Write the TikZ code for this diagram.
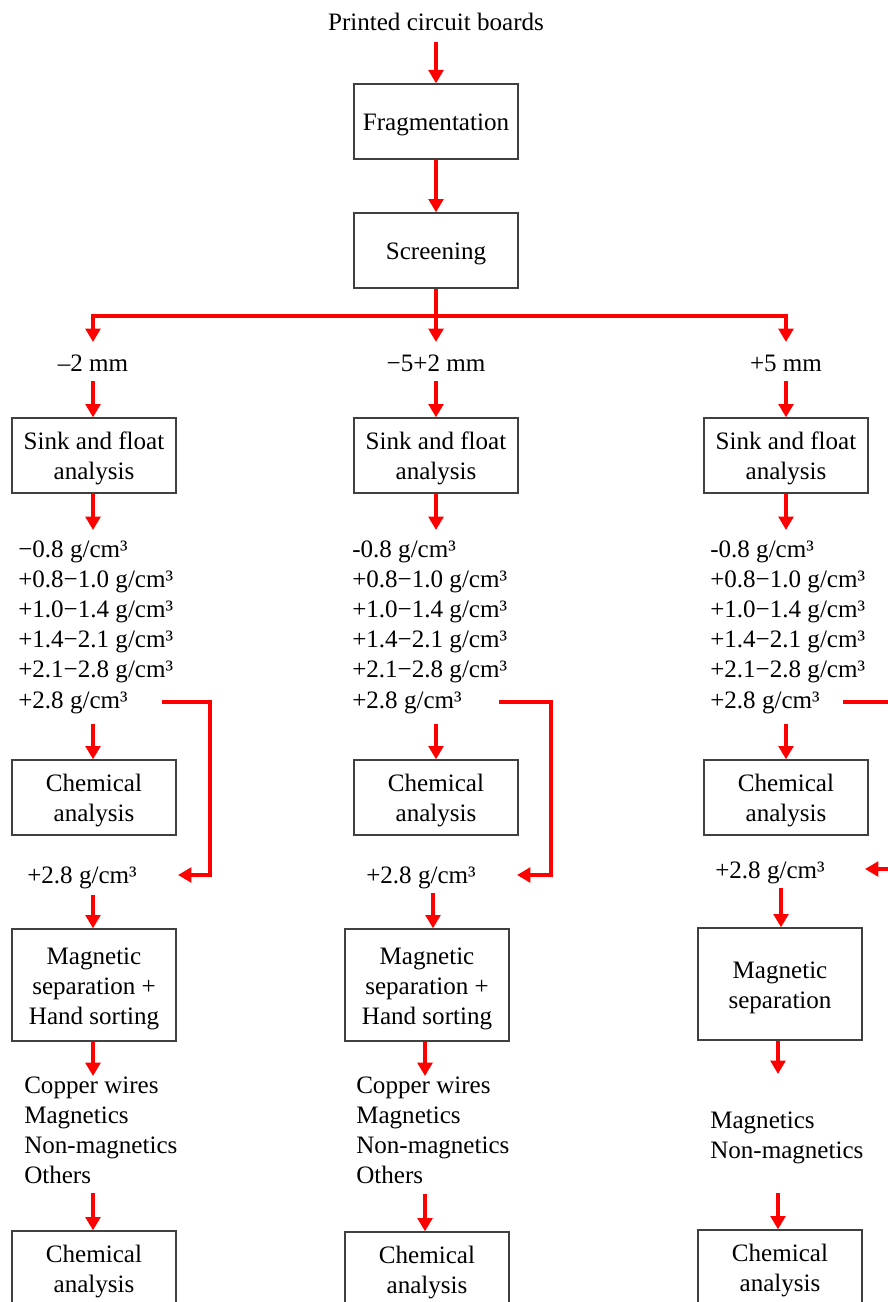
\documentclass[tikz,border=0pt]{standalone}
\usepackage{fontspec}
\setmainfont{Liberation Serif}
\usetikzlibrary{arrows.meta}
\newcommand{\Tup}{\rule{0pt}{18pt}}
\begin{document}
\begin{tikzpicture}[x=0.75pt,y=-0.75pt,
  every node/.style={font=\fontsize{18.8}{22.5}\selectfont, inner sep=0pt},
  box/.style={draw=black!75, line width=1pt, minimum width=123pt, minimum height=56.25pt, align=center},
  tall/.style={box, minimum height=84pt},
  flow/.style={red, line width=3.4pt},
  arr/.style={flow, -{Triangle[length=10pt,width=11pt]}},
  txt/.style={anchor=base},
  item/.style={anchor=base west}]
\useasboundingbox (0,0) rectangle (888,1302);
\clip (0,0) rectangle (888,1302);

% top
\node[txt] (pcb) at (436,31) {Printed circuit boards};
\coordinate (pcbo) at (436,42);
\node[box] (frag) at (436,121.5) {\Tup Fragmentation};
\node[box] (scr) at (436,250.5) {\Tup Screening};
\draw[arr] (pcbo) -- (frag.north);
\draw[arr] (frag.south) -- (scr.north);
\coordinate (j) at (436,316);
\coordinate (aL) at (93,342);
\coordinate (aM) at (436,342);
\coordinate (aR) at (786,342);
\draw[flow] (scr.south) -- (j);
\draw[arr] (j) -| (aL);
\draw[arr] (j) -| (aR);
\draw[arr] (j) -- (aM);

% size labels
\node[txt] (mmL) at (93,371) {–2 mm};
\node[txt] (mmM) at (436,371) {−5+2 mm};
\node[txt] (mmR) at (786,371) {+5 mm};
\coordinate (bL) at (93,381);
\coordinate (bM) at (436,381);
\coordinate (bR) at (786,381);

% sink and float
\node[box] (sinkL) at (94,455.5) {\Tup Sink and float\\analysis};
\node[box] (sinkM) at (436,455.5) {\Tup Sink and float\\analysis};
\node[box] (sinkR) at (786,455.5) {\Tup Sink and float\\analysis};
\draw[arr] (bL) -- (bL |- sinkL.north);
\draw[arr] (bM) -- (bM |- sinkM.north);
\draw[arr] (bR) -- (bR |- sinkR.north);
\coordinate (lL) at (93,530);
\coordinate (lM) at (436,530);
\coordinate (lR) at (786,530);
\draw[arr] (lL |- sinkL.south) -- (lL);
\draw[arr] (lM |- sinkM.south) -- (lM);
\draw[arr] (lR |- sinkR.south) -- (lR);

% density lists
\foreach \t [count=\i from 0] in {−0.8 g/cm³, +0.8−1.0 g/cm³, +1.0−1.4 g/cm³, +1.4−2.1 g/cm³, +2.1−2.8 g/cm³, +2.8 g/cm³}
  \node[item] (dL\i) at (18,{557+30.2*\i}) {\t};
\foreach \t [count=\i from 0] in {-0.8 g/cm³, +0.8−1.0 g/cm³, +1.0−1.4 g/cm³, +1.4−2.1 g/cm³, +2.1−2.8 g/cm³, +2.8 g/cm³}
  \node[item] (dM\i) at (352,{557+30.2*\i}) {\t};
\foreach \t [count=\i from 0] in {-0.8 g/cm³, +0.8−1.0 g/cm³, +1.0−1.4 g/cm³, +1.4−2.1 g/cm³, +2.1−2.8 g/cm³, +2.8 g/cm³}
  \node[item] (dR\i) at (710,{557+30.2*\i}) {\t};

% chemical analysis 1
\node[box] (chemL) at (94,797.5) {\Tup Chemical\\analysis};
\node[box] (chemM) at (436,797.5) {\Tup Chemical\\analysis};
\node[box] (chemR) at (786,797.5) {\Tup Chemical\\analysis};
\coordinate (cL) at (93,724);
\coordinate (cM) at (436,724);
\coordinate (cR) at (786,724);
\draw[arr] (cL) -- (cL |- chemL.north);
\draw[arr] (cM) -- (cM |- chemM.north);
\draw[arr] (cR) -- (cR |- chemR.north);

% +2.8 labels
\node[item] (pL) at (27,883) {+2.8 g/cm³};
\node[item] (pM) at (366,883) {+2.8 g/cm³};
\node[item] (pR) at (715,878) {+2.8 g/cm³};

% bypass brackets
\coordinate (kL) at (162,702);
\coordinate (kL2) at (178,875);
\coordinate (kM) at (499,702);
\coordinate (kM2) at (517,875);
\coordinate (kR) at (843,702);
\coordinate (kR2) at (865,869);
\draw[arr] (kL) -- ++(48,0) |- (kL2);
\draw[arr] (kM) -- ++(52,0) |- (kM2);
\draw[arr] (kR) -- ++(55,0) |- (kR2);

% magnetic separation
\node[tall] (magL) at (94,985) {\Tup Magnetic\\separation +\\Hand sorting};
\node[tall] (magM) at (427,985) {\Tup Magnetic\\separation +\\Hand sorting};
\node[tall] (magR) at (780,984) {\Tup Magnetic\\separation};
\coordinate (eL) at (93,895);
\coordinate (eM) at (433,893);
\coordinate (eR) at (781,888);
\draw[arr] (eL) -- (eL |- magL.north);
\draw[arr] (eM) -- (eM |- magM.north);
\draw[arr] (eR) -- (eR |- magR.north);
\coordinate (fL) at (93,1076);
\coordinate (fM) at (425,1076);
\coordinate (fR) at (778,1074);
\draw[arr] (fL |- magL.south) -- (fL);
\draw[arr] (fM |- magM.south) -- (fM);
\draw[arr] (fR |- magR.south) -- (fR);

% product lists
\foreach \t [count=\i from 0] in {Copper wires, Magnetics, Non-magnetics, Others}
  \node[item] (oL\i) at (24,{1093+30*\i}) {\t};
\foreach \t [count=\i from 0] in {Copper wires, Magnetics, Non-magnetics, Others}
  \node[item] (oM\i) at (356,{1093+30*\i}) {\t};
\foreach \t [count=\i from 0] in {Magnetics, Non-magnetics}
  \node[item] (oR\i) at (710,{1128+30*\i}) {\t};

% chemical analysis 2
\node[box] (chem2L) at (94,1268.5) {\Tup Chemical\\analysis};
\node[box] (chem2M) at (427,1269.5) {\Tup Chemical\\analysis};
\node[box] (chem2R) at (780,1267.5) {\Tup Chemical\\analysis};
\coordinate (gL) at (93,1193);
\coordinate (gM) at (425,1194);
\coordinate (gR) at (778,1193);
\draw[arr] (gL) -- (gL |- chem2L.north);
\draw[arr] (gM) -- (gM |- chem2M.north);
\draw[arr] (gR) -- (gR |- chem2R.north);
\end{tikzpicture}
\end{document}
